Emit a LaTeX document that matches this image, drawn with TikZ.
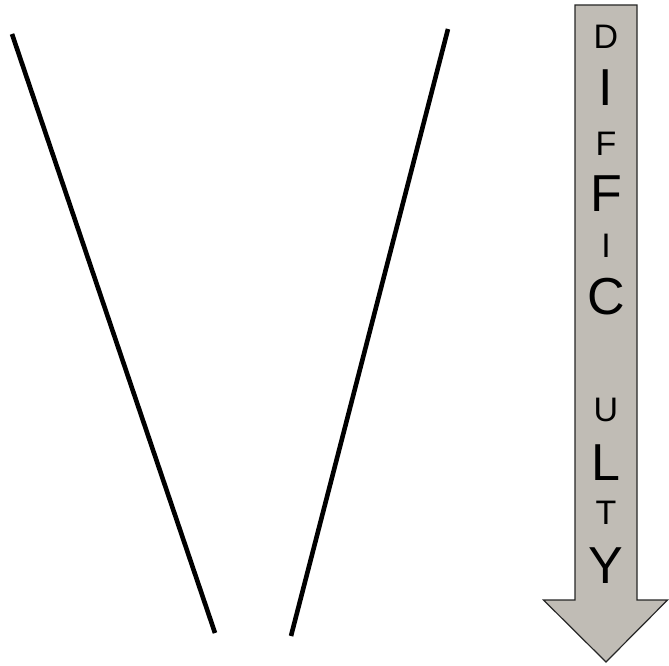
\documentclass[tikz,border=0pt]{standalone}
\usepackage{fontspec}
\setmainfont{Liberation Sans}
\definecolor{arrowgray}{RGB}{192,188,181}
\tikzset{
  bar/.style={line width=4.6pt, line cap=butt},
  bigarrow/.style={fill=arrowgray, draw=black!85, line width=1.2pt, line join=miter},
  small/.style={inner sep=0pt, font=\fontsize{34}{34}\selectfont},
  large/.style={inner sep=0pt, font=\fontsize{52}{52}\selectfont}
}
\begin{document}
\begin{tikzpicture}[x=1pt,y=-1pt]
\useasboundingbox (0,0) rectangle (669,666);
% two slanted lines
\coordinate (l1) at (12,34);
\coordinate (l2) at (215,633);
\coordinate (r1) at (448,29);
\coordinate (r2) at (291,636);
\draw[bar] (l1) -- (l2);
\draw[bar] (r1) -- (r2);
% arrow
\draw[bigarrow] (575,5) -- (637,5) -- (637,600) -- (667.5,600) -- (606,662) -- (543.5,600) -- (575,600) -- cycle;
% letters
\node[small] (d)  at (606,36.5) {D};
\node[large] (i1) at (606,88) {I};
\node[small] (f1) at (606,143.5) {F};
\node[large] (f2) at (606,193.5) {F};
\node[small] (i2) at (606,245.5) {I};
\node[large] (c)  at (606,296.5) {C};
\node[small] (u)  at (606,409.5) {U};
\node[large] (l)  at (606,462.5) {L};
\node[small] (t)  at (606,512.5) {T};
\node[large] (y)  at (606,565.5) {Y};
\end{tikzpicture}
\end{document}
